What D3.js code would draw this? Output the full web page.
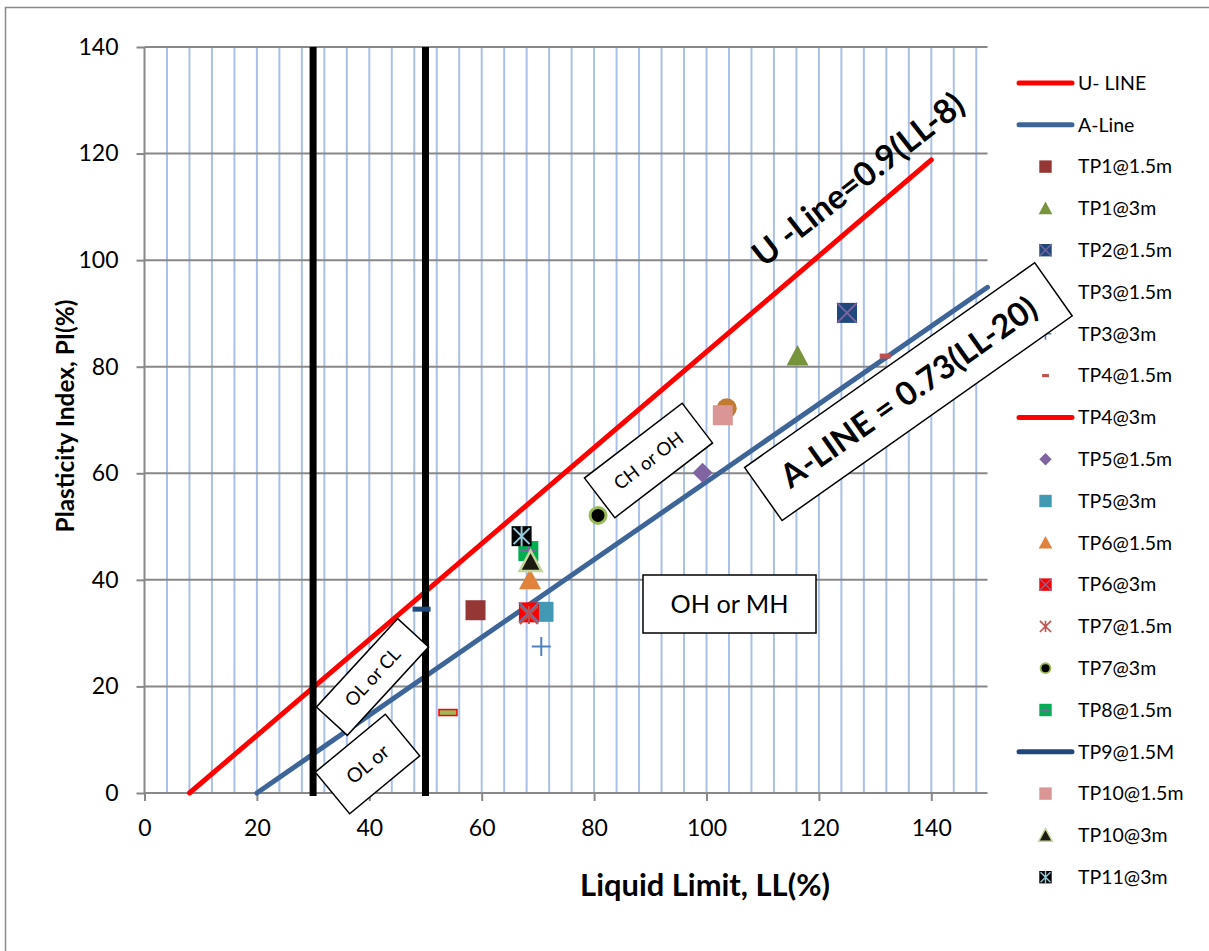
<!DOCTYPE html>
<html><head><meta charset="utf-8">
<script src="https://cdn.jsdelivr.net/npm/d3@7"></script>
<style>body{margin:0;background:#fff}svg{display:block}text{font-family:Lato,"Open Sans",sans-serif}</style>
</head><body><svg id="c" width="1209" height="951"></svg>
<script>
// ---------- data ----------
const xTicks = [0, 20, 40, 60, 80, 100, 120, 140];
const yTicks = [0, 20, 40, 60, 80, 100, 120, 140];
const uLineLL = [8, 140];
const uLinePI = [0, 118.8];
const aLineLL = [20, 150];
const aLinePI = [0, 94.9];
const boundaryLL = [30, 50];
const seriesNames = ["TP1@1.5m","TP1@3m","TP2@1.5m","TP3@1.5m","TP3@3m","TP4@1.5m","TP4@3m","TP5@1.5m","TP5@3m","TP6@1.5m","TP6@3m","TP7@1.5m","TP7@3m","TP8@1.5m","TP9@1.5M","TP10@1.5m","TP10@3m","TP11@3m"];
const liquidLimit   = [58.9, 116.2, 125.0, 103.6, 70.6, 131.8, 54.0, 99.3, 71.0, 68.6, 68.4, 68.4, 80.7, 68.3, 49.3, 102.9, 68.7, 67.1];
const plasticityIndex = [34.3, 82.0, 90.1, 72.2, 27.5, 82.0, 15.1, 60.1, 34.0, 40.0, 33.9, 33.4, 52.1, 45.4, 34.5, 70.9, 43.4, 48.2];
const legendLabels = ["U- LINE", "A-Line"].concat(seriesNames);

// ---------- styles ----------
const markerStyles = [
  {shape:"square", fill:"#953735"},
  {shape:"triangle", fill:"#77933c"},
  {shape:"square", fill:"#1f497d", detail:"x", dc:"#8064a2"},
  {shape:"circle", fill:"#c27a30"},
  {shape:"plus", stroke:"#4f81bd"},
  {shape:"dash", fill:"#c0504d", w:11, h:5},
  {shape:"dash", fill:"#9bbb59", stroke:"#ff0000", w:18, h:6, line:"#ff0000"},
  {shape:"diamond", fill:"#8064a2"},
  {shape:"square", fill:"#4299b4"},
  {shape:"triangle", fill:"#e0823c"},
  {shape:"square", fill:"#ff0000", detail:"x", dc:"#4f81bd"},
  {shape:"star", stroke:"#c0504d"},
  {shape:"circle", fill:"#000000", stroke:"#9bbb59", r:8},
  {shape:"square", fill:"#00b050", detail:"plus", dc:"#8064a2"},
  {shape:"dash", fill:"#1f497d", w:18, h:5, line:"#1f497d"},
  {shape:"square", fill:"#d99694"},
  {shape:"triangle", fill:"#1d1b10", stroke:"#c3d69b"},
  {shape:"square", fill:"#000000", detail:"star", dc:"#93cddd"}
];

const svg = d3.select("#c");
svg.append("rect").attr("x",5.5).attr("y",7.5).attr("width",1230).attr("height",970)
  .attr("fill","#fff").attr("stroke","#8a8a8a").attr("stroke-width",1.5);

const x = d3.scaleLinear().domain([0,150]).range([144.5, 987.5]);
const y = d3.scaleLinear().domain([0,140]).range([793, 47]);

// grid
const g = svg.append("g");
g.selectAll(".vg").data(d3.range(4, 150, 4)).join("line")
  .attr("x1",d=>x(d)).attr("x2",d=>x(d)).attr("y1",y(0)).attr("y2",y(140))
  .attr("stroke","#a9c1e9").attr("stroke-width",2);
g.selectAll(".hg").data(yTicks.slice(1)).join("line")
  .attr("x1",x(0)).attr("x2",x(150)).attr("y1",d=>y(d)).attr("y2",d=>y(d))
  .attr("stroke","#888").attr("stroke-width",2);

// axes
const ax = svg.append("g").attr("transform",`translate(0,${y(0)})`)
  .call(d3.axisBottom(x).tickValues(xTicks).tickSize(8).tickSizeOuter(0).tickPadding(19).tickFormat(d3.format("d")));
const ay = svg.append("g").attr("transform",`translate(${x(0)},0)`)
  .call(d3.axisLeft(y).tickValues(yTicks).tickSize(8).tickSizeOuter(0).tickPadding(18).tickFormat(d3.format("d")));
[ax, ay].forEach(a => {
  a.select(".domain").attr("stroke","#888").attr("stroke-width",2);
  a.selectAll(".tick line").attr("stroke","#888").attr("stroke-width",2);
  a.selectAll(".tick text").attr("fill","#000").style("font-size","23px").style("font-family","Lato");
});
ay.select(".domain").attr("d",`M0,${y(0)}V${y(140)}`);
ax.select(".domain").attr("d",`M0,0H${x(150)}`).attr("transform",`translate(0,0)`);
ax.select(".domain").attr("d",`M${x(0)},0H${x(150)}`);

// classification lines
const line = d3.line().x(d=>x(d[0])).y(d=>y(d[1]));
svg.append("path").attr("d", line(d3.zip(uLineLL, uLinePI))).attr("stroke","#ff0000").attr("stroke-width",5)
  .attr("stroke-linecap","round").attr("fill","none");
svg.append("path").attr("d", line(d3.zip(aLineLL, aLinePI))).attr("stroke","#3d6597").attr("stroke-width",5)
  .attr("stroke-linecap","round").attr("fill","none");
svg.selectAll(".bl").data(boundaryLL).join("line")
  .attr("x1",d=>x(d)).attr("x2",d=>x(d)).attr("y1",y(140)).attr("y2",y(0)+3)
  .attr("stroke","#000").attr("stroke-width",7);

// markers
function drawMarker(sel, st, cx, cy, s) {
  const m = sel.append("g").attr("transform",`translate(${cx},${cy})`);
  const a = 10*s;
  if (st.shape === "square") {
    m.append("rect").attr("x",-a).attr("y",-a).attr("width",2*a).attr("height",2*a).attr("fill",st.fill);
    if (st.detail === "x") m.append("path").attr("d",`M${-a},${-a}L${a},${a}M${a},${-a}L${-a},${a}`).attr("stroke",st.dc).attr("stroke-width",1.8*Math.max(s,0.7));
    if (st.detail === "plus") m.append("path").attr("d",`M${-a*0.8},0H${a*0.8}M0,${-a*0.8}V${a*0.8}`).attr("stroke",st.dc).attr("stroke-width",2*Math.max(s,0.7));
    if (st.detail === "star") m.append("path").attr("d",`M${-a*0.8},${-a*0.8}L${a*0.8},${a*0.8}M${a*0.8},${-a*0.8}L${-a*0.8},${a*0.8}M0,${-a}V${a}`).attr("stroke",st.dc).attr("stroke-width",2*Math.max(s,0.7));
  } else if (st.shape === "triangle") {
    const b = 11*s;
    m.append("path").attr("d",`M0,${-b}L${b},${b*0.85}L${-b},${b*0.85}Z`).attr("fill",st.fill)
      .attr("stroke",st.stroke||"none").attr("stroke-width",st.stroke?2.5*s:0);
  } else if (st.shape === "diamond") {
    m.append("path").attr("d",`M0,${-a}L${a},0L0,${a}L${-a},0Z`).attr("fill",st.fill);
  } else if (st.shape === "circle") {
    const r = (st.r||10)*s;
    m.append("circle").attr("r",r).attr("fill",st.fill).attr("stroke",st.stroke||"none").attr("stroke-width",st.stroke?3*s:0);
  } else if (st.shape === "plus") {
    const b = 9.5*s;
    m.append("path").attr("d",`M${-b},0H${b}M0,${-b}V${b}`).attr("stroke",st.stroke).attr("stroke-width",2*Math.max(s,0.8));
  } else if (st.shape === "star") {
    const b = 9*s;
    m.append("path").attr("d",`M${-b},${-b}L${b},${b}M${b},${-b}L${-b},${b}M0,${-b}V${b}`).attr("stroke",st.stroke).attr("stroke-width",2*Math.max(s,0.8));
  } else if (st.shape === "dash") {
    const w = st.w*s, h = st.h*s;
    m.append("rect").attr("x",-w/2).attr("y",-h/2).attr("width",w).attr("height",h).attr("fill",st.fill)
      .attr("stroke",st.stroke||"none").attr("stroke-width",st.stroke?1.5:0);
  }
}
const pts = svg.append("g");
seriesNames.forEach((n,i) => drawMarker(pts, markerStyles[i], x(liquidLimit[i]), y(plasticityIndex[i]), 1));

// legend
const lg = svg.append("g");
legendLabels.forEach((lab,i) => {
  const ly = 83 + i*41.8;
  if (i === 0 || i === 1) {
    lg.append("line").attr("x1",1019).attr("x2",1072).attr("y1",ly).attr("y2",ly)
      .attr("stroke", i===0 ? "#ff0000" : "#3d6597").attr("stroke-width",5).attr("stroke-linecap","round");
  } else {
    const st = markerStyles[i-2];
    if (st.line) lg.append("line").attr("x1",1019).attr("x2",1072).attr("y1",ly).attr("y2",ly)
      .attr("stroke",st.line).attr("stroke-width",5).attr("stroke-linecap","round");
    if (!st.line) drawMarker(lg, st, 1045.5, ly, 0.62);
  }
  lg.append("text").attr("x",1078).attr("y",ly).attr("dy","0.35em").text(lab)
    .style("font-size","19.5px").attr("fill","#000");
});

// annotations
function fit(t, target) {
  t.style("font-size","20px");
  const w = t.node().getComputedTextLength();
  t.style("font-size",(20*target/w)+"px");
}
function label(cx, cy, angle, txt, width, bold, box) {
  const gg = svg.append("g").attr("transform",`translate(${cx},${cy}) rotate(${angle})`);
  if (box) gg.append("rect").attr("x",-box[0]/2).attr("y",-box[1]/2).attr("width",box[0]).attr("height",box[1])
    .attr("fill","#fff").attr("stroke","#000").attr("stroke-width",1.5);
  const t = gg.append("text").attr("text-anchor","middle").attr("dy","0.36em").text(txt)
    .attr("font-weight", bold ? "bold" : "normal").attr("fill","#000");
  fit(t, width);
}
label(858, 179, -38, "U -Line=0.9(LL-8)", 258, true, null);
label(908.4, 391.7, -35.2, "A-LINE = 0.73(LL-20)", 305, true, [355, 65]);
label(648.5, 460.5, -37.4, "CH or OH", 82, false, [123, 50]);
label(729.5, 604, 0, "OH or MH", 118, false, [173, 58]);
label(372.5, 677, -47.4, "OL or CL", 72, false, [120, 42]);
label(367.5, 764, -39.6, "OL or", 49, false, [91, 54]);

// axis titles
label(705, 885, 0, "Liquid Limit, LL(%)", 250, true, null);
label(65, 416, -90, "Plasticity Index, PI(%)", 233, true, null);
</script></body></html>
